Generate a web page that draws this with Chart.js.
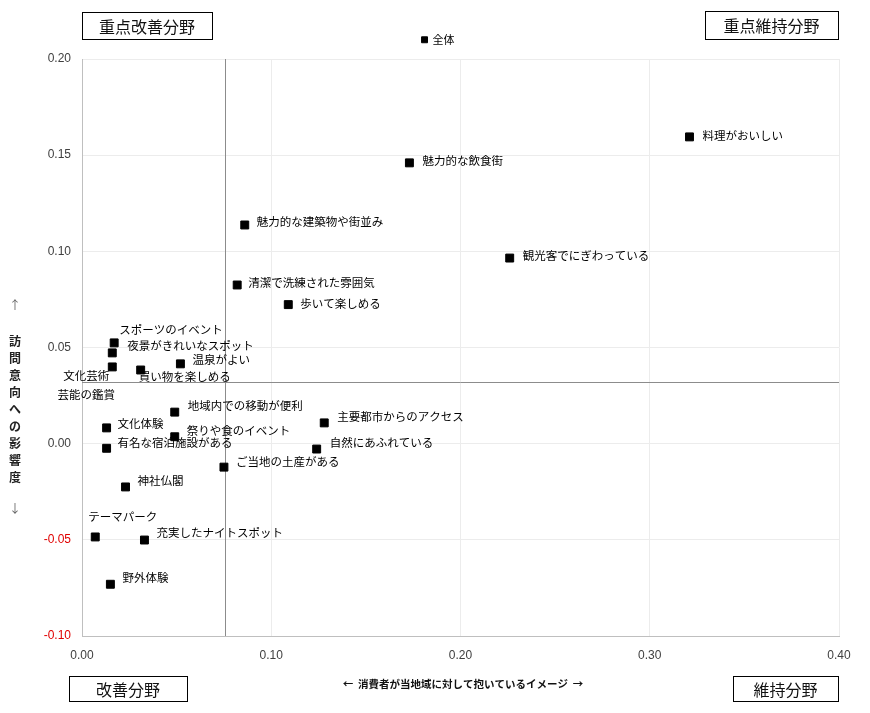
<!DOCTYPE html>
<html>
<head>
<meta charset="utf-8">
<script src="https://cdn.jsdelivr.net/npm/chart.js@4"></script>
<style>
  body { margin: 0; background: #fff; }
  #wrap { position: relative; width: 870px; height: 713px; }
</style>
</head>
<body>
<div id="wrap"><canvas id="myChart" width="870" height="713"></canvas></div>
<script>
var ctx = document.getElementById("myChart").getContext("2d");

// items (labels) and their scores
const items = [
  "全体",
  "料理がおいしい",
  "魅力的な飲食街",
  "魅力的な建築物や街並み",
  "観光客でにぎわっている",
  "清潔で洗練された雰囲気",
  "歩いて楽しめる",
  "スポーツのイベント",
  "夜景がきれいなスポット",
  "温泉がよい",
  "文化芸術\n芸能の鑑賞",
  "買い物を楽しめる",
  "地域内での移動が便利",
  "主要都市からのアクセス",
  "文化体験",
  "祭りや食のイベント",
  "有名な宿泊施設がある",
  "自然にあふれている",
  "ご当地の土産がある",
  "神社仏閣",
  "テーマパーク",
  "充実したナイトスポット",
  "野外体験"
];

// x: 消費者が当地域に対して抱いているイメージ
const imageScore = [
  0.181, 0.321, 0.173, 0.086, 0.226, 0.082, 0.109, 0.017, 0.016, 0.052,
  0.016, 0.031, 0.049, 0.128, 0.013, 0.049, 0.013, 0.124, 0.075, 0.023,
  0.007, 0.033, 0.015
];

// y: 訪問意向への影響度
const visitImpact = [
  0.210, 0.1595, 0.146, 0.1137, 0.0965, 0.0825, 0.0723, 0.0524, 0.0472, 0.0415,
  0.0399, 0.0383, 0.0164, 0.0108, 0.0082, 0.0036, -0.0024, -0.0028, -0.0122, -0.0225,
  -0.0485, -0.0501, -0.0731
];

// quadrant reference lines
const refX = 0.0755;
const refY = 0.032;

// where each label sits relative to its marker [dx, dy, align]
const labelPos = [
  [8, 0, "left"], [13, -1, "left"], [13, -2, "left"], [12, -3, "left"],
  [13, -2, "left"], [11, -2, "left"], [12, -1, "left"], [5, -13, "left"],
  [15, -7, "left"], [12, -4, "left"], [-26, 9, "center"], [-2, 7, "left"],
  [13, -6, "left"], [13, -6, "left"], [11, -4, "left"], [12, -6, "left"],
  [11, -6, "left"], [13, -6, "left"], [12, -6, "left"], [12, -6, "left"],
  [-7, -20, "left"], [12, -7, "left"], [12, -7, "left"]
];

const jpFont = "'Noto Sans CJK JP', 'Noto Sans', sans-serif";

const points = imageScore.map((x, i) => ({ x: x, y: visitImpact[i] }));

// draws labels, quadrant lines, axis titles and corner boxes
const decorations = {
  id: "decorations",
  beforeDatasetsDraw(chart) {
    const c = chart.ctx;
    const xs = chart.scales.x, ys = chart.scales.y;
    const area = chart.chartArea;
    c.save();
    c.strokeStyle = "#8c8c8c";
    c.lineWidth = 1;
    const vx = Math.round(xs.getPixelForValue(refX)) + 0.5;
    const hy = Math.round(ys.getPixelForValue(refY)) + 0.5;
    c.beginPath();
    c.moveTo(vx, area.top);
    c.lineTo(vx, area.bottom);
    c.moveTo(area.left, hy);
    c.lineTo(area.right, hy);
    c.stroke();
    c.restore();
  },
  afterDatasetsDraw(chart) {
    const c = chart.ctx;
    const meta = chart.getDatasetMeta(0);
    const area = chart.chartArea;
    c.save();
    // points above the plot area (全体) are skipped by the library, draw them here
    meta.data.forEach(pt => {
      if (pt.y < area.top || pt.y > area.bottom) pt.draw(c);
    });
    c.fillStyle = "#000";
    c.textBaseline = "middle";
    meta.data.forEach((pt, i) => {
      const p = labelPos[i];
      c.font = (i === 0 ? "11px " : "11.5px ") + jpFont;
      c.textAlign = p[2];
      const lines = items[i].split("\n");
      lines.forEach((ln, k) => {
        c.fillText(ln, pt.x + p[0], pt.y + p[1] + k * 19);
      });
    });

    // y axis title, stacked vertically
    const yTitle = ["訪", "問", "意", "向", "へ", "の", "影", "響", "度"];
    c.textAlign = "center";
    c.font = "bold 12px " + jpFont;
    c.fillStyle = "#222";
    yTitle.forEach((ch, k) => c.fillText(ch, 15, 341 + k * 17));
    c.font = "12px " + jpFont;
    c.fillStyle = "#666";
    c.fillText("↑", 15, 305);
    c.fillText("↓", 15, 508);

    // x axis title
    c.fillStyle = "#111";
    c.font = "bold 10.5px " + jpFont;
    c.fillText("←  消費者が当地域に対して抱いているイメージ  →", 463, 684);

    // quadrant boxes
    const boxes = [
      ["重点改善分野", 82, 12, 130, 27],
      ["重点維持分野", 705, 11, 133, 28],
      ["改善分野", 69, 676, 118, 25],
      ["維持分野", 733, 676, 105, 25]
    ];
    boxes.forEach(b => {
      c.fillStyle = "#fff";
      c.fillRect(b[1], b[2], b[3], b[4]);
      c.strokeStyle = "#000";
      c.lineWidth = 1;
      c.strokeRect(b[1] + 0.5, b[2] + 0.5, b[3], b[4]);
      c.fillStyle = "#111";
      c.font = "16px " + jpFont;
      c.fillText(b[0], b[1] + b[3] / 2, b[2] + b[4] / 2 + 1);
    });
    c.restore();
  }
};

var chart = new Chart(ctx, {
  type: "scatter",
  data: {
    datasets: [
      {
        data: points,
        backgroundColor: "#000",
        borderColor: "#000",
        pointStyle: "rect",
        pointRadius: points.map((p, i) => (i === 0 ? 4.2 : 5.6)),
        pointHoverRadius: 5.6,
        clip: false
      }
    ]
  },
  plugins: [decorations],
  options: {
    responsive: false,
    animation: false,
    layout: { padding: { left: 0, right: 31, top: 59, bottom: 0 } },
    plugins: {
      legend: { display: false },
      tooltip: { enabled: false }
    },
    scales: {
      x: {
        type: "linear",
        min: 0,
        max: 0.4,
        afterFit(scale) { scale.height = 77; },
        border: { color: "#bfbfbf" },
        grid: { color: "#ececec", drawTicks: false },
        ticks: {
          stepSize: 0.1,
          padding: 12,
          color: "#404040",
          font: { size: 12, family: "'Liberation Sans', sans-serif" },
          callback: v => v.toFixed(2)
        }
      },
      y: {
        type: "linear",
        min: -0.1,
        max: 0.2,
        afterFit(scale) { scale.width = 82; },
        border: { color: "#bfbfbf" },
        grid: { color: "#ececec", drawTicks: false },
        ticks: {
          stepSize: 0.05,
          padding: 11,
          color: ctx => (ctx.tick && ctx.tick.value < 0 ? "#e00000" : "#404040"),
          font: { size: 12, family: "'Liberation Sans', sans-serif" },
          callback: v => v.toFixed(2)
        }
      }
    }
  }
});
</script>
</body>
</html>
